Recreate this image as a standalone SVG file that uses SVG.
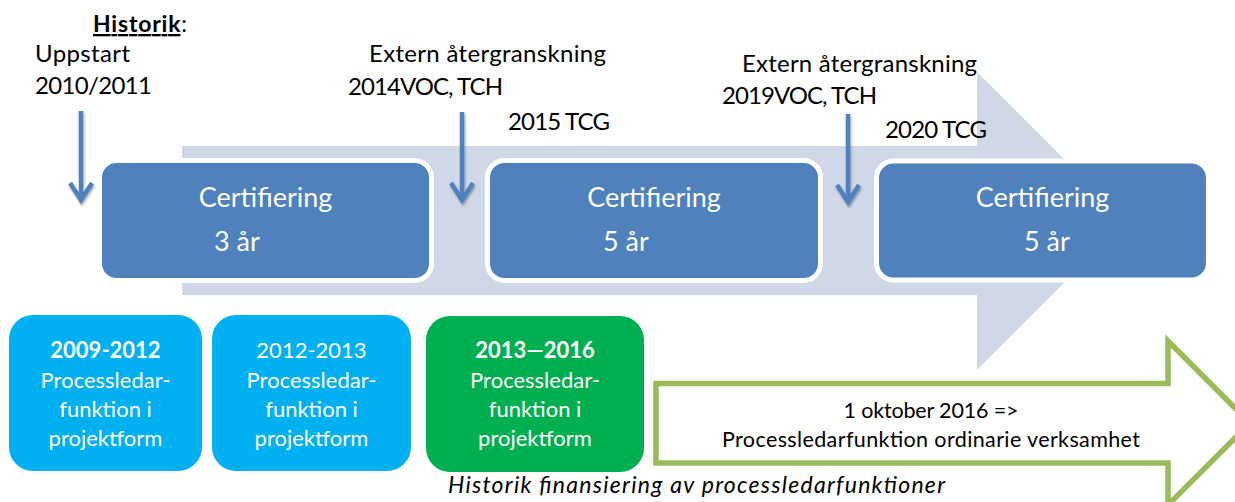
<svg xmlns="http://www.w3.org/2000/svg" width="1235" height="502" viewBox="0 0 1235 502">
<defs>
<style>
text{font-family:Lato,"Liberation Sans",sans-serif;}
.lbl{font-size:24px;fill:#000;}
.cert{font-size:27px;fill:#fff;text-anchor:middle;}
.yr{font-size:27px;fill:#fff;}
.bx{font-size:22px;fill:#fff;text-anchor:middle;}
.gt{font-size:21.5px;fill:#000;text-anchor:middle;}
.blue{fill:#4f81bd;stroke:#fff;stroke-width:5;}
.dn{fill:none;stroke:#4f81bd;stroke-width:4.5;filter:url(#sh);}
</style>
<filter id="sh" x="-50%" y="-10%" width="200%" height="130%">
<feDropShadow dx="1" dy="2" stdDeviation="1.2" flood-color="#000" flood-opacity="0.35"/>
</filter>
</defs>
<rect width="1235" height="502" fill="#fff"/>
<g id="timeline-arrow">
<path d="M182,146 H977 V72 L1126,221 L977,370 V295 H182 Z" fill="#d0d8e8"/>
</g>
<g id="labels">
<text x="93" y="32" style="font-size:23px;font-weight:bold" textLength="94"><tspan text-decoration="underline">Historik</tspan><tspan font-weight="normal">:</tspan></text>
<text class="lbl" x="35" y="62" textLength="95">Uppstart</text>
<text class="lbl" x="35" y="94" textLength="117">2010/2011</text>
<text class="lbl" x="369" y="62" textLength="237">Extern återgranskning</text>
<text class="lbl" x="348" y="95" textLength="155">2014VOC, TCH</text>
<text class="lbl" x="508" y="130" textLength="102">2015 TCG</text>
<text class="lbl" x="742" y="72" textLength="235">Extern återgranskning</text>
<text class="lbl" x="722" y="104" textLength="155">2019VOC, TCH</text>
<text class="lbl" x="885" y="138" textLength="102">2020 TCG</text>
</g>
<g id="cert1">
<rect class="blue" x="99.5" y="160.5" width="332" height="120" rx="17"/>
<text class="cert" x="265.5" y="207">Certifiering</text>
<text class="yr" x="214" y="251">3 år</text>
</g>
<g id="cert2">
<rect class="blue" x="487.5" y="160.5" width="333" height="120" rx="17"/>
<text class="cert" x="654" y="207">Certifiering</text>
<text class="yr" x="603" y="251">5 år</text>
</g>
<g id="cert3">
<rect class="blue" x="876.5" y="161" width="332" height="119" rx="17"/>
<text class="cert" x="1042.5" y="207">Certifiering</text>
<text class="yr" x="1024" y="251">5 år</text>
</g>
<g id="connectors">
<path class="dn" d="M81,111 V200 M70,183 L81,200 L92,183"/>
<path class="dn" d="M462,112 V200 M451,183 L462,200 L473,183"/>
<path class="dn" d="M848,114 V202 M837,185 L848,202 L859,185"/>
</g>
<g id="fin1">
<rect x="9" y="315" width="193" height="156" rx="24" fill="#00b0f0"/>
<text class="bx" x="105.5" y="358" font-weight="bold">2009-2012</text>
<text class="bx" x="105.5" y="388">Processledar-</text>
<text class="bx" x="105.5" y="417">funktion i</text>
<text class="bx" x="105.5" y="446">projektform</text>
</g>
<g id="fin2">
<rect x="212" y="315" width="199" height="156" rx="24" fill="#00b0f0"/>
<text class="bx" x="311.5" y="358">2012-2013</text>
<text class="bx" x="311.5" y="388">Processledar-</text>
<text class="bx" x="311.5" y="417">funktion i</text>
<text class="bx" x="311.5" y="446">projektform</text>
</g>
<g id="fin3">
<rect x="426" y="316" width="218" height="156" rx="24" fill="#00b050"/>
<text class="bx" x="535" y="358" font-weight="bold">2013—2016</text>
<text class="bx" x="535" y="388">Processledar-</text>
<text class="bx" x="535" y="417">funktion i</text>
<text class="bx" x="535" y="446">projektform</text>
</g>
<g id="ordinarie">
<path d="M656,383.5 H1168 V341 L1250,423 L1168,505 V463 H656 Z" fill="#fff" stroke="#9bbb59" stroke-width="5.5"/>
<text class="gt" x="931" y="418" textLength="175">1 oktober 2016 =&gt;</text>
<text class="gt" x="931" y="447" textLength="418">Processledarfunktion ordinarie verksamhet</text>
</g>
<g id="caption">
<text x="448" y="493" style="font-size:23px;font-style:italic;fill:#000" textLength="497">Historik finansiering av processledarfunktioner</text>
</g>
</svg>
